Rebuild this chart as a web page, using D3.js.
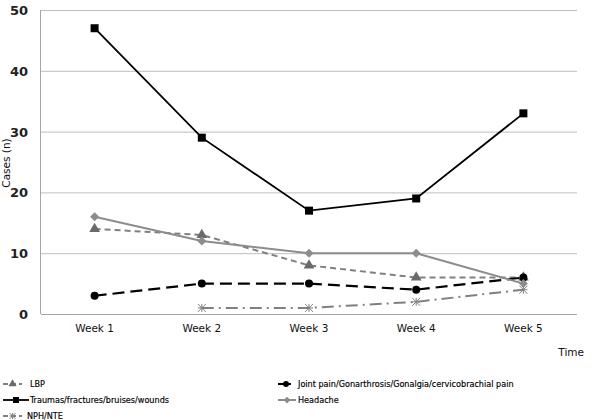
<!DOCTYPE html>
<html><head><meta charset="utf-8">
<script src="https://cdn.jsdelivr.net/npm/d3@7"></script>
<style>body{margin:0;background:#fff}svg{display:block}</style>
</head><body><svg id="c" width="600" height="420"></svg>
<script>
const weeks = ["Week 1","Week 2","Week 3","Week 4","Week 5"];
const yTicks = [0,10,20,30,40,50];
const lbp = [14,13,8,6,6];
const joint = [3,5,5,4,6];
const traumas = [47,29,17,19,33];
const headache = [16,12,10,10,5];
const nph = [null,1,1,2,4];

const series = [
  {name:"LBP", values:lbp, color:"#808080", mcolor:"#6a6a6a", dash:"6,4", width:2, marker:"triangle"},
  {name:"Joint pain/Gonarthrosis/Gonalgia/cervicobrachial  pain", values:joint, color:"#000", mcolor:"#000", dash:"12,6", width:2.2, marker:"circle"},
  {name:"Traumas/fractures/bruises/wounds", values:traumas, color:"#000", mcolor:"#000", dash:null, width:1.8, marker:"square"},
  {name:"Headache", values:headache, color:"#8c8c8c", mcolor:"#8c8c8c", dash:null, width:2, marker:"diamond"},
  {name:"NPH/NTE", values:nph, color:"#808080", mcolor:"#808080", dash:"12,5,2,5", width:2, marker:"asterisk"}
];

const svg = d3.select("#c");
const L=41, R=577, T=10, B=314;
const x = d3.scaleBand().domain(weeks).range([L,R]);
const y = d3.scaleLinear().domain([0,50]).range([B,T]);
const cx = d => x(d)+x.bandwidth()/2;

svg.append("g").selectAll("line").data(yTicks.filter(t=>t>0)).join("line")
  .attr("x1",L).attr("x2",R).attr("y1",d=>y(d)+0.5).attr("y2",d=>y(d)+0.5)
  .attr("stroke","#bdbdbd").attr("stroke-width",1);
svg.append("line").attr("x1",L-0.5).attr("x2",L-0.5).attr("y1",T).attr("y2",B).attr("stroke","#a6a6a6");
svg.append("line").attr("x1",L).attr("x2",R).attr("y1",B+0.5).attr("y2",B+0.5).attr("stroke","#a6a6a6");

svg.append("g").selectAll("text").data(yTicks).join("text")
  .attr("x",28).attr("y",d=>y(d)+5).attr("text-anchor","end")
  .attr("font-family","DejaVu Sans, Verdana, sans-serif").attr("font-weight","bold").attr("font-size",13)
  .attr("fill","#222").text(d=>d);
svg.append("g").selectAll("text").data(weeks).join("text")
  .attr("x",d=>cx(d)).attr("y",332).attr("text-anchor","middle")
  .attr("font-family","DejaVu Sans, Verdana, sans-serif").attr("font-size",10.5)
  .attr("fill","#111").text(d=>d);
svg.append("text").attr("transform","translate(10,163) rotate(-90)").attr("text-anchor","middle")
  .attr("font-family","DejaVu Sans, Verdana, sans-serif").attr("font-size",10.5).attr("fill","#111").text("Cases (n)");
svg.append("text").attr("x",584).attr("y",356).attr("text-anchor","end")
  .attr("font-family","DejaVu Sans, Verdana, sans-serif").attr("font-size",10.5).attr("fill","#111").text("Time");

function drawMarker(g, type, px, py, color, s) {
  s = s||1;
  if (type==="square") g.append("rect").attr("x",px-4*s).attr("y",py-4*s).attr("width",8*s).attr("height",8*s).attr("fill",color);
  else if (type==="circle") g.append("circle").attr("cx",px).attr("cy",py).attr("r",4*s).attr("fill",color);
  else if (type==="triangle") g.append("path").attr("d",d3.symbol(d3.symbolTriangle, 50*s*s)()).attr("transform",`translate(${px},${py})`).attr("fill",color);
  else if (type==="diamond") g.append("path").attr("d",`M${px},${py-4.5*s}L${px+4.5*s},${py}L${px},${py+4.5*s}L${px-4.5*s},${py}Z`).attr("fill",color);
  else if (type==="asterisk") {
    const r=4*s;
    g.append("path").attr("d",`M${px-r},${py-r}L${px+r},${py+r}M${px-r},${py+r}L${px+r},${py-r}M${px},${py-r}L${px},${py+r}M${px-r},${py}L${px+r},${py}`)
      .attr("stroke",color).attr("stroke-width",1).attr("fill","none");
  }
}

const line = d3.line().defined(d=>d.v!=null).x(d=>cx(d.w)).y(d=>y(d.v));
series.forEach(s=>{
  const pts = weeks.map((w,i)=>({w, v:s.values[i]}));
  svg.append("path").datum(pts).attr("d",line).attr("fill","none")
    .attr("stroke",s.color).attr("stroke-width",s.width).attr("stroke-dasharray",s.dash);
  const g = svg.append("g");
  pts.filter(d=>d.v!=null).forEach(d=>drawMarker(g, s.marker, cx(d.w), y(d.v), s.mcolor));
});

const legPos = [[3,22,384,30],[278,294,384,298],[3,29,400,30],[278,296,400,298],[3,22,416,27]];
series.forEach((s,i)=>{
  const [x1,x2,ly,tx] = legPos[i];
  const g = svg.append("g");
  g.append("line").attr("x1",x1).attr("x2",x2).attr("y1",ly).attr("y2",ly)
    .attr("stroke",s.color).attr("stroke-width",s.width).attr("stroke-dasharray",s.dash?"5,3":null);
  drawMarker(g, s.marker, (x1+x2)/2, ly, s.mcolor, 0.75);
  g.append("text").attr("x",tx).attr("y",ly+3.3)
    .attr("font-family","DejaVu Sans Condensed, DejaVu Sans, sans-serif").attr("font-size",9)
    .attr("fill","#000").attr("stroke","#000").attr("stroke-width",0.15).text(s.name);
});
</script></body></html>
